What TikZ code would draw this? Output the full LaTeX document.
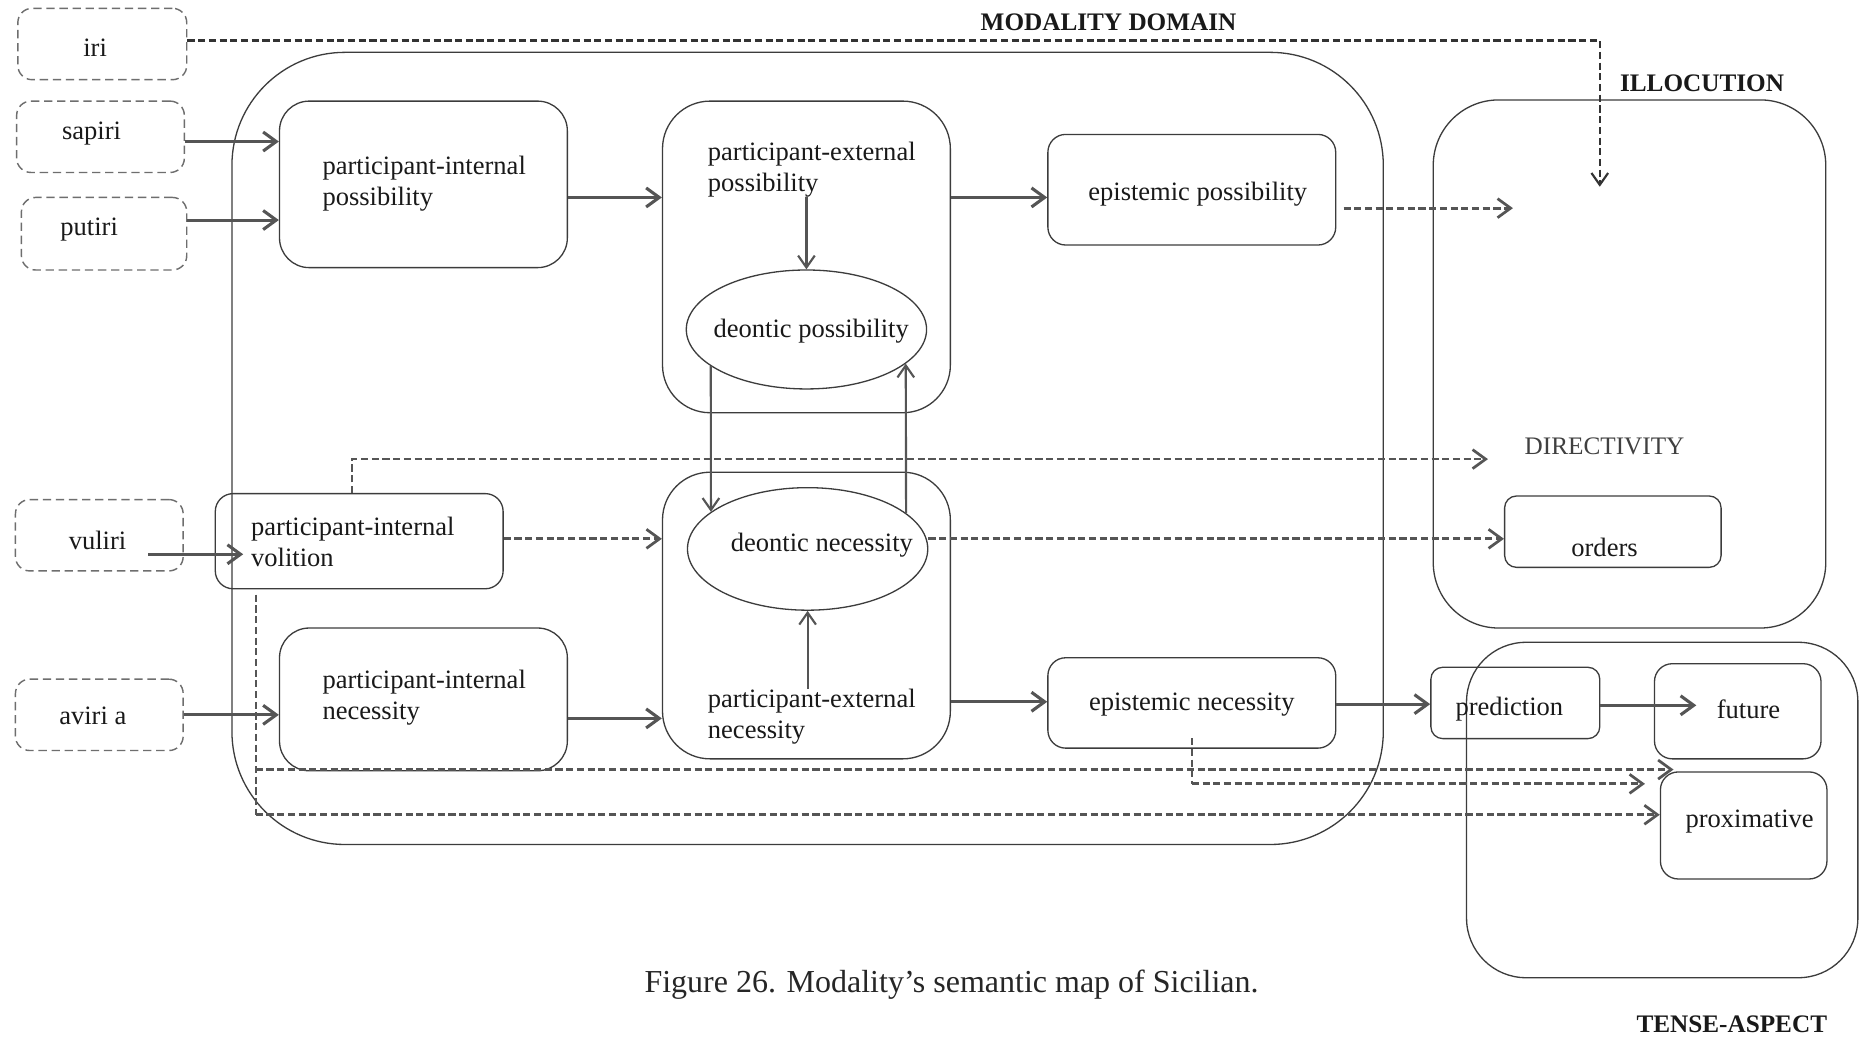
\documentclass[tikz,border=0pt]{standalone}
\usepackage{fontspec}
\setmainfont{Liberation Serif}
\usetikzlibrary{arrows.meta,shapes.geometric}
\definecolor{ln}{RGB}{85,85,85}
\definecolor{bx}{RGB}{60,60,60}
\definecolor{dbx}{RGB}{110,110,110}
\definecolor{tx}{RGB}{25,25,25}
\begin{document}
\begin{tikzpicture}[x=1pt,y=-1pt,
  box/.style 2 args={draw=bx,line width=1.1pt,inner sep=0pt,minimum width=#1pt,minimum height=#2pt},
  vbox/.style 2 args={draw=dbx,line width=1.2pt,dash pattern=on 7pt off 4pt,rounded corners=12pt,inner sep=0pt,minimum width=#1pt,minimum height=#2pt},
  ell/.style 2 args={draw=bx,line width=1.1pt,ellipse,inner sep=0pt,minimum width=#1pt,minimum height=#2pt},
  lbl/.style={font=\fontsize{22.3}{26}\selectfont,text=tx,inner sep=0pt},
  ml/.style={lbl,align=left,anchor=base west},
  bold/.style={font=\fontsize{21.2}{25}\selectfont\bfseries,text=tx,inner sep=0pt},
  arr/.style={draw=ln,line width=2.6pt,-{Straight Barb[length=11pt,width=16pt]}},
  thinarr/.style={draw=ln,line width=1.8pt,-{Straight Barb[length=10pt,width=14pt]}},
  darr/.style={draw=ln,line width=2.3pt,dash pattern=on 6pt off 3pt,-{Straight Barb[length=11pt,width=16pt]}},
  dline/.style={draw=ln,line width=1.3pt,dash pattern=on 6pt off 3pt},
  iriarr/.style={draw=black!80,line width=1.8pt,dash pattern=on 6pt off 3pt,-{Straight Barb[length=10pt,width=14pt]}}
]
\useasboundingbox[fill=white] (0,0) rectangle (1568,873);

% domains
\node[box={968}{666},rounded corners=95pt] (modal) at (679,377) {};
\node[box={330}{444},rounded corners=55pt] (illoc) at (1370,306) {};
\node[box={329}{282},rounded corners=50pt] (tense) at (1397.5,681) {};
\node[bold] (modT) at (932,19) {MODALITY DOMAIN};
\node[bold] (illT) at (1431,70) {ILLOCUTION};
\node[bold] (taT) at (1456,861) {TENSE-ASPECT};

% verbs
\node[vbox={142}{60}] (iri) at (86,37) {};
\node[lbl] (iriT) at (80,40) {iri};
\node[vbox={141}{60}] (sapiri) at (84.5,115) {};
\node[lbl] (sapiriT) at (77,112) {sapiri};
\node[vbox={139}{61}] (putiri) at (87.5,196.5) {};
\node[lbl] (putiriT) at (75,193) {putiri};
\node[vbox={141}{60}] (vuliri) at (83.5,450) {};
\node[lbl] (vuliriT) at (82,454) {vuliri};
\node[vbox={141}{60}] (aviri) at (83.5,601) {};
\node[lbl] (aviriT) at (78,602) {aviri a};

% modality boxes
\node[box={242}{140},rounded corners=25pt] (pip) at (356,155) {};
\node[ml] (pipT) at (271,173) {participant-internal\\possibility};
\node[box={242}{262},rounded corners=40pt] (pep) at (678,216) {};
\node[ml] (pepT) at (595,161) {participant-external\\possibility};
\node[ell={202}{100}] (dposs) at (678,277) {};
\node[lbl] (dpossT) at (682,278) {deontic possibility};
\node[box={242}{93},rounded corners=15pt] (eposs) at (1002,159.5) {};
\node[lbl] (epossT) at (1007,163) {epistemic possibility};

\node[box={242}{80},rounded corners=15pt] (piv) at (302,455) {};
\node[ml] (pivT) at (211,476) {participant-internal\\volition};
\node[box={242}{241},rounded corners=40pt] (pen) at (678,517.5) {};
\node[ell={202}{103}] (dnec) at (679,461.5) {};
\node[lbl] (dnecT) at (691,458) {deontic necessity};
\node[ml] (penT) at (595,621) {participant-external\\necessity};
\node[box={242}{120},rounded corners=25pt] (pin) at (356,588) {};
\node[ml] (pinT) at (271,605) {participant-internal\\necessity};
\node[box={242}{76},rounded corners=15pt] (epn) at (1002,591) {};
\node[lbl] (epnT) at (1002,592) {epistemic necessity};

% illocution
\node[lbl,font=\fontsize{21.2}{25}\selectfont,text=black!75] (dirT) at (1349,375) {DIRECTIVITY};
\node[box={182}{60},rounded corners=10pt] (orders) at (1356,447) {};
\node[lbl] (ordersT) at (1349,460) {orders};

% tense-aspect
\node[box={142}{60},rounded corners=10pt] (pred) at (1274,591) {};
\node[lbl] (predT) at (1269,596) {prediction};
\node[box={140}{80},rounded corners=15pt] (future) at (1461,598) {};
\node[lbl] (futT) at (1470,596) {future};
\node[box={140}{90},rounded corners=15pt] (prox) at (1466,694) {};
\node[lbl] (proxT) at (1471,691) {proximative};

% free ends
\coordinate (illtop) at (1345,157);
\coordinate (illin) at (1272,175);
\coordinate (dirin) at (1251,386);
\coordinate (pv1) at (215,500);
\coordinate (pv2) at (215,647);
\coordinate (pv3) at (215,685);
\coordinate (tafut) at (1407,647);
\coordinate (tapro) at (1383,659);

% solid arrows
\draw[arr] (sapiri.east |- 0,119) -- (pip.west |- 0,119);
\draw[arr] (putiri.east |- 0,185) -- (pip.west |- 0,185);
\draw[arr] (pip.east |- 0,166) -- (pep.west |- 0,166);
\draw[arr] (pep.east |- 0,166) -- (eposs.west |- 0,166);
\draw[thinarr] (dposs.north |- pepT.south) -- (dposs.north);
\draw[thinarr] (dposs.201) -- (dnec.159);
\draw[thinarr] (dnec.20) -- (dposs.-19);
\draw[thinarr] (dnec.south |- penT.north) -- (dnec.south);
\draw[arr] ([shift={(-30,16)}]vuliri.east) -- ([shift={(24,11)}]piv.west);
\draw[arr] (aviri.east |- 0,601) -- (pin.west |- 0,601);
\draw[arr] (pin.east |- 0,604) -- (pen.west |- 0,604);
\draw[arr] (pen.east |- 0,590) -- (epn.west |- 0,590);
\draw[arr] (epn.east |- 0,592) -- (pred.west |- 0,592);
\draw[arr] (pred.east |- 0,593) -- ([xshift=-17pt]futT.west |- 0,593);

% dashed arrows
\draw[iriarr] (iri.east |- 0,34) -| (illtop);
\draw[darr] ([xshift=6pt]eposs.east |- illin) -- (illin);
\draw[darr] ([xshift=-6pt]piv.north) |- (dirin);
\draw[darr] (piv.east |- 0,453) -- (pen.west |- 0,453);
\draw[darr] (dnec.east |- 0,453) -- (orders.west |- 0,453);
\draw[dline] (pv1) -- (pv3);
\draw[darr] (pv2) -- (tafut);
\draw[darr] (pv3) -- (prox.west |- pv3);
\draw[dline] ([yshift=9pt]epn.south) -- (epn.south |- tapro);
\draw[darr] (epn.south |- tapro) -- (tapro);

% caption
\node[font=\fontsize{26.9}{30}\selectfont,text=black!85,inner sep=0pt] (capT) at (800,828) {Figure 26. Modality’s semantic map of Sicilian.};
\end{tikzpicture}
\end{document}
